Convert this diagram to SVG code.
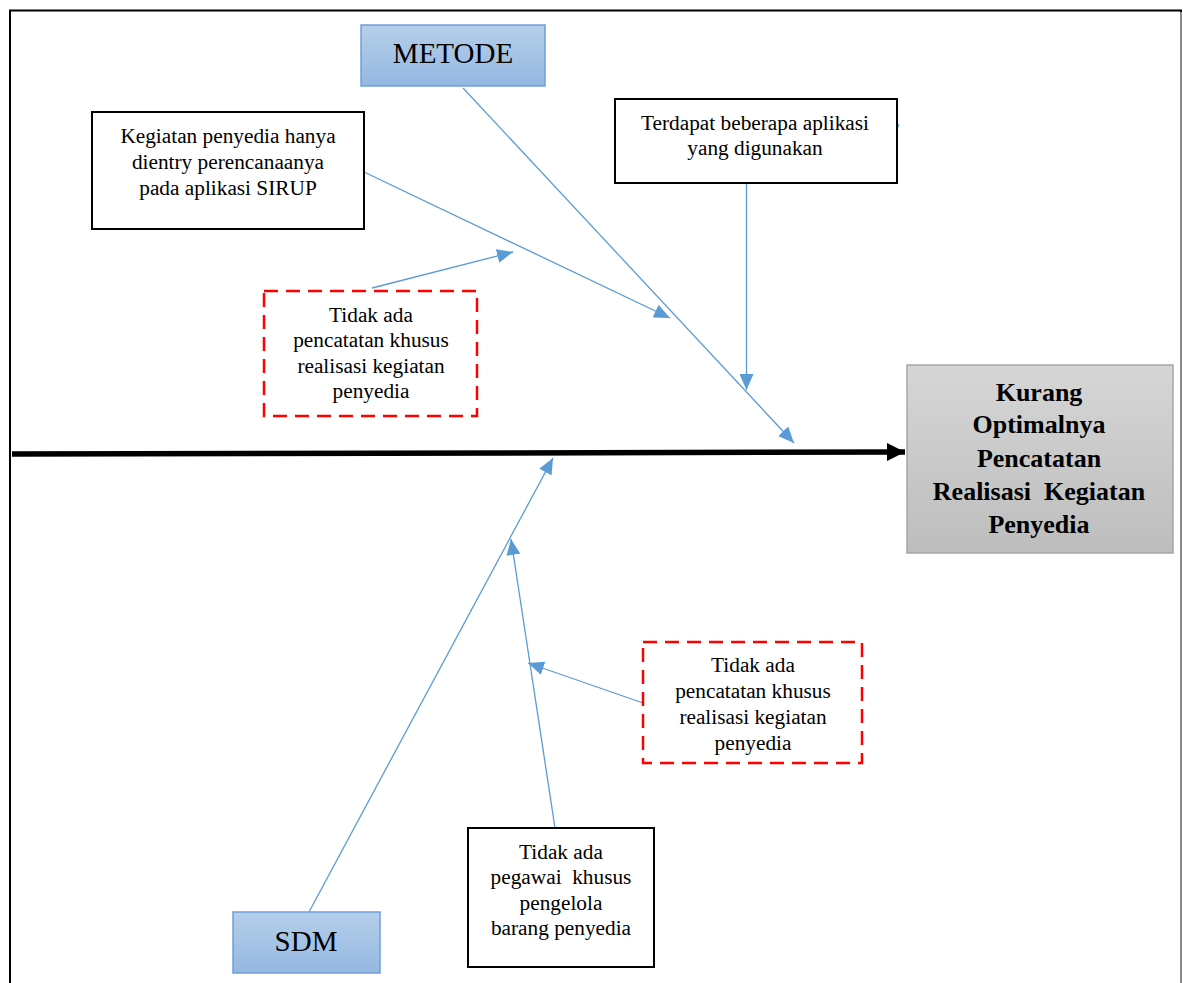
<svg xmlns="http://www.w3.org/2000/svg" width="1183" height="983" viewBox="0 0 1183 983">
<style>
.t{font-family:"Liberation Serif","Times New Roman",serif;font-size:21.3px;fill:#000;text-anchor:middle}
.cat{font-family:"Liberation Serif","Times New Roman",serif;font-size:29px;fill:#000;text-anchor:middle}
.res{font-family:"Liberation Serif","Times New Roman",serif;font-size:26px;font-weight:bold;fill:#000;text-anchor:middle}
.box{fill:#fff;stroke:#000;stroke-width:2}
.dash{fill:#fff;stroke:#ff0000;stroke-width:2.5;stroke-dasharray:14,8}
.catbox{fill:url(#blueG);stroke:#6fa0d8;stroke-width:1.5}
.c{stroke:#5b9bd5;stroke-width:1.3;fill:none}
</style>
<defs>
<linearGradient id="blueG" x1="0" y1="0" x2="0" y2="1"><stop offset="0" stop-color="#b5cfea"/><stop offset="1" stop-color="#94b8e1"/></linearGradient>
<linearGradient id="grayG" x1="0" y1="0" x2="0" y2="1"><stop offset="0" stop-color="#d6d6d6"/><stop offset="1" stop-color="#bdbdbd"/></linearGradient>
<marker id="ab" markerUnits="userSpaceOnUse" markerWidth="18" markerHeight="14" refX="16" refY="7" orient="auto"><path d="M0,0 L16,7 L0,14 Z" fill="#5b9bd5"/></marker>
<marker id="ak" markerUnits="userSpaceOnUse" markerWidth="20" markerHeight="18" refX="18" refY="9" orient="auto"><path d="M0,0 L18,9 L0,18 Z" fill="#000"/></marker>
</defs>
<rect width="1183" height="983" fill="#fff"/>
<path d="M10,983 L10,10.5 L1181,10.5 L1181,983" fill="none" stroke="#000" stroke-width="2"/>
<line x1="1181" y1="12" x2="1181" y2="983" stroke="#bbb" stroke-width="1.5"/>
<g id="connectors">
<line x1="12" y1="454" x2="905" y2="452" stroke="#000" stroke-width="5.5" marker-end="url(#ak)"/>
<line class="c" x1="463" y1="88" x2="794" y2="443" marker-end="url(#ab)"/>
<line class="c" x1="364" y1="172" x2="670" y2="318" marker-end="url(#ab)"/>
<line class="c" x1="746.5" y1="179" x2="746.5" y2="390" marker-end="url(#ab)"/>
<line class="c" x1="372" y1="288" x2="513" y2="252" marker-end="url(#ab)"/>
<path d="M897,122 L899,126 L897,127" fill="#5b9bd5" stroke="#5b9bd5" stroke-width="1"/>
<line class="c" x1="309" y1="912" x2="553" y2="458" marker-end="url(#ab)"/>
<line class="c" x1="555" y1="828" x2="511" y2="539" marker-end="url(#ab)"/>
<line class="c" x1="643" y1="703" x2="528" y2="663" marker-end="url(#ab)"/>
</g>
<g id="metode">
<rect class="catbox" x="361" y="25" width="184" height="61"/>
<text class="cat" x="453" y="63">METODE</text>
</g>
<g id="kegiatan">
<rect class="box" x="92" y="112" width="272" height="117"/>
<text class="t" x="228" y="143">Kegiatan penyedia hanya</text>
<text class="t" x="228" y="169">dientry perencanaanya</text>
<text class="t" x="228" y="195">pada aplikasi SIRUP</text>
</g>
<g id="terdapat">
<rect class="box" x="615" y="99" width="282" height="84"/>
<text class="t" x="755" y="130">Terdapat beberapa aplikasi</text>
<text class="t" x="755" y="155">yang digunakan</text>
</g>
<g id="tidak-ada-1">
<rect class="dash" x="264" y="291" width="213" height="125"/>
<text class="t" x="371" y="322">Tidak ada</text>
<text class="t" x="371" y="347">pencatatan khusus</text>
<text class="t" x="371" y="373">realisasi kegiatan</text>
<text class="t" x="371" y="398">penyedia</text>
</g>
<g id="result">
<rect x="907" y="365" width="266" height="188" fill="url(#grayG)" stroke="#a6a6a6" stroke-width="1.5"/>
<text class="res" x="1039" y="401">Kurang</text>
<text class="res" x="1039" y="433">Optimalnya</text>
<text class="res" x="1039" y="467">Pencatatan</text>
<text class="res" x="1039" y="500" xml:space="preserve">Realisasi  Kegiatan</text>
<text class="res" x="1039" y="533">Penyedia</text>
</g>
<g id="tidak-ada-2">
<rect class="dash" x="643" y="642" width="219" height="121"/>
<text class="t" x="753" y="672">Tidak ada</text>
<text class="t" x="753" y="698">pencatatan khusus</text>
<text class="t" x="753" y="724">realisasi kegiatan</text>
<text class="t" x="753" y="750">penyedia</text>
</g>
<g id="pegawai">
<rect class="box" x="468" y="828" width="186" height="139"/>
<text class="t" x="561" y="859">Tidak ada</text>
<text class="t" x="561" y="884" xml:space="preserve">pegawai  khusus</text>
<text class="t" x="561" y="910">pengelola</text>
<text class="t" x="561" y="935">barang penyedia</text>
</g>
<g id="sdm">
<rect class="catbox" x="233" y="912" width="147" height="61"/>
<text class="cat" x="306" y="951">SDM</text>
</g>
</svg>
